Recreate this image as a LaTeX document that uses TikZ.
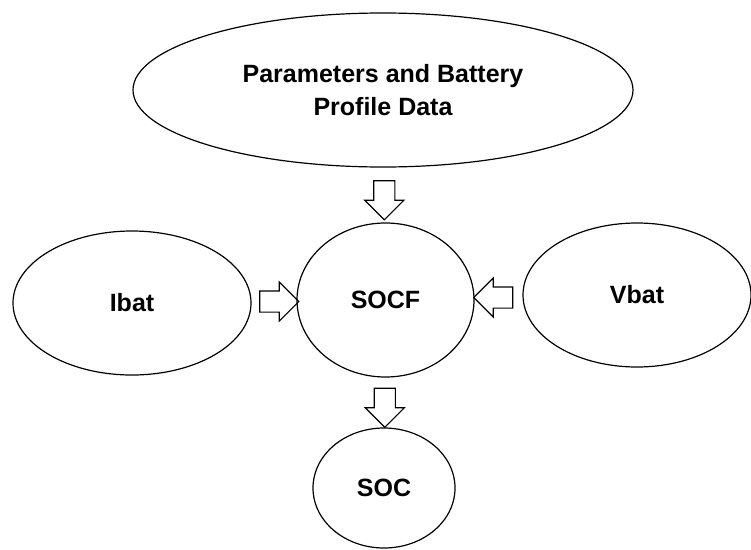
\documentclass[tikz,border=0pt]{standalone}
\usepackage{fontspec}
\setmainfont{Liberation Sans}
\usepackage{tikz}
\usetikzlibrary{shapes.geometric}
\usetikzlibrary{shapes.arrows}
\usetikzlibrary{calc}

\begin{document}
\begin{tikzpicture}[x=1pt,y=-1pt]
\tikzstyle{oval node}=[ellipse,draw,line width=1.2pt,inner sep=0,align=center,font=\fontsize{25}{33}\selectfont\bfseries]
\tikzstyle{flow arrow}=[single arrow,draw,line width=1.1pt,inner xsep=0,inner ysep=10pt,single arrow head extend=9pt,minimum height=39pt]

\useasboundingbox (0,0) rectangle (751,549);

    \node[oval node,minimum width=500pt,minimum height=154pt] (param) at (383,90)  {Parameters and Battery\\Profile Data};
    \node[oval node,minimum width=177pt,minimum height=154pt] (socf)  at (385.5,300) {SOCF};
    \node[oval node,minimum width=238pt,minimum height=144pt] (ibat)  at (132,303) {Ibat};
    \node[oval node,minimum width=228pt,minimum height=144pt] (vbat)  at (637,295) {Vbat};
    \node[oval node,minimum width=142pt,minimum height=120pt] (soc)   at (384,488) {SOC};
    %%%%%%%%%%%%%%%%%%%%%%%%%%%%%%%%%%%%%%%%%%
    \node[flow arrow,rotate=-90] (pa) at ($(param.south)!0.5!(socf.north)$) {};
    \node[flow arrow]            (ia) at ($(ibat.east)!0.5!(socf.west)$)    {};
    \node[flow arrow,rotate=180] (va) at ($(vbat.west)!0.5!(socf.east)$)    {};
    \node[flow arrow,rotate=-90] (sa) at ($(socf.south)!0.5!(soc.north)$)   {};
\end{tikzpicture}
\end{document}
